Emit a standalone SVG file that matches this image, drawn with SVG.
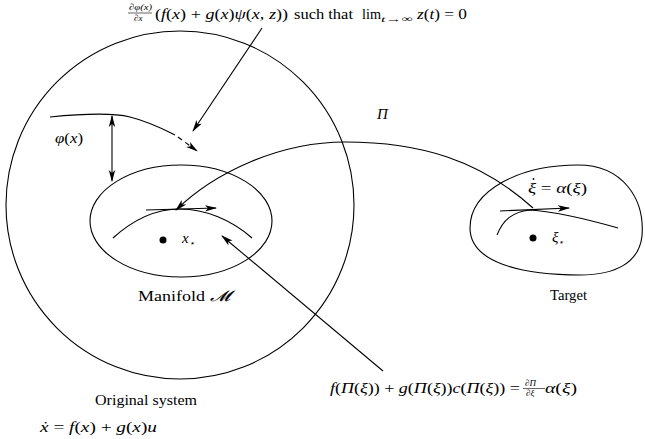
<svg xmlns="http://www.w3.org/2000/svg" width="645" height="439" viewBox="0 0 645 439">
<style>
.ln{fill:none;stroke:#000;stroke-width:1.1}
.t{font-family:"Liberation Serif","Times New Roman",serif;font-size:15px;fill:#000}
.i{font-style:italic}
.s{font-size:9px}
</style>
<defs>
<marker id="ah" markerWidth="12" markerHeight="8" refX="11" refY="4" orient="auto" markerUnits="userSpaceOnUse">
<path d="M0,0.8 L12,4 L0,7.2 L3,4 Z" fill="#000"/>
</marker>
<marker id="ahs" markerWidth="12" markerHeight="8" refX="1" refY="4" orient="auto" markerUnits="userSpaceOnUse">
<path d="M12,0.8 L0,4 L12,7.2 L9,4 Z" fill="#000"/>
</marker>
</defs>

<g id="original-system">
<circle class="ln" cx="180" cy="205" r="174"/>
<text class="t" x="95" y="405" textLength="102" lengthAdjust="spacingAndGlyphs">Original system</text>
<text class="t" x="40" y="432" textLength="117" lengthAdjust="spacingAndGlyphs"><tspan class="i">ẋ</tspan> = <tspan class="i">f</tspan>(<tspan class="i">x</tspan>) + <tspan class="i">g</tspan>(<tspan class="i">x</tspan>)<tspan class="i">u</tspan></text>
</g>

<g id="manifold">
<ellipse class="ln" cx="181" cy="221" rx="91" ry="56"/>
<path class="ln" d="M113,238 C135,218 158,209 180,209 C205,209 232,220 252,238"/>
<circle cx="163" cy="240" r="3.5" fill="#000"/>
<text class="t i" x="182" y="243">x<tspan class="s" dy="3">⋆</tspan></text>
<text class="t" x="138" y="301" textLength="92" lengthAdjust="spacingAndGlyphs">Manifold <tspan class="i" font-family="'DejaVu Serif',serif">𝓜</tspan></text>
</g>

<g id="target">
<path class="ln" d="M470,228 C470,190 520,165 578,165 C622,165 645,198 642,236 C639,263 615,275 580,275 C520,275 470,262 470,228 Z"/>
<path class="ln" d="M497,235 C503,220 512,212 530,210 C560,212 590,220 618,228"/>
<circle cx="533" cy="238" r="3.5" fill="#000"/>
<text class="t i" x="552" y="242">ξ<tspan class="s" dy="3">⋆</tspan></text>
<text class="t" x="528" y="193" textLength="59" lengthAdjust="spacingAndGlyphs"><tspan class="i">ξ</tspan> = <tspan class="i">α</tspan>(<tspan class="i">ξ</tspan>)</text>
<circle cx="533.5" cy="179" r="0.9" fill="#000"/>
<text class="t" x="550" y="300" font-size="13" textLength="37" lengthAdjust="spacingAndGlyphs">Target</text>
</g>

<g id="phi">
<path class="ln" d="M50,117 C80,114 110,112 130,117 C150,122 165,130 175,135"/>
<text class="t" x="55" y="143" textLength="28" lengthAdjust="spacingAndGlyphs"><tspan class="i">φ</tspan>(<tspan class="i">x</tspan>)</text>
</g>

<g id="top-label">
<text class="t s i" x="129" y="10" textLength="23" lengthAdjust="spacingAndGlyphs">∂φ(x)</text>
<line x1="128" y1="13" x2="152" y2="13" stroke="#000" stroke-width="0.6"/>
<text class="t s i" x="134" y="21">∂x</text>
<text class="t" x="155" y="19" textLength="133" lengthAdjust="spacingAndGlyphs">(<tspan class="i">f</tspan>(<tspan class="i">x</tspan>) + <tspan class="i">g</tspan>(<tspan class="i">x</tspan>)<tspan class="i">ψ</tspan>(<tspan class="i">x, z</tspan>))</text>
<text class="t" x="294" y="19" textLength="59" lengthAdjust="spacingAndGlyphs">such that</text>
<text class="t" x="362" y="19" textLength="19" lengthAdjust="spacingAndGlyphs">lim</text>
<text class="t s" x="381" y="22" textLength="32" lengthAdjust="spacingAndGlyphs"><tspan class="i">t</tspan>→∞</text>
<text class="t" x="417" y="19" textLength="50" lengthAdjust="spacingAndGlyphs"><tspan class="i">z</tspan>(<tspan class="i">t</tspan>) = 0</text>
</g>

<g id="pi-label">
<text class="t i" x="377" y="119">Π</text>
</g>

<g id="bottom-label">
<text class="t" x="330" y="393" textLength="190" lengthAdjust="spacingAndGlyphs"><tspan class="i">f</tspan>(<tspan class="i">Π</tspan>(<tspan class="i">ξ</tspan>)) + <tspan class="i">g</tspan>(<tspan class="i">Π</tspan>(<tspan class="i">ξ</tspan>))<tspan class="i">c</tspan>(<tspan class="i">Π</tspan>(<tspan class="i">ξ</tspan>)) =</text>
<text class="t s i" x="525" y="386">∂Π</text>
<line x1="523" y1="388.5" x2="545" y2="388.5" stroke="#000" stroke-width="0.6"/>
<text class="t s i" x="526" y="396">∂ξ</text>
<text class="t" x="545" y="393" textLength="32" lengthAdjust="spacingAndGlyphs"><tspan class="i">α</tspan>(<tspan class="i">ξ</tspan>)</text>
</g>

<g id="connectors">
<line class="ln" x1="112" y1="116" x2="112" y2="181" marker-start="url(#ahs)" marker-end="url(#ah)"/>
<path class="ln" d="M178,137 L197,151" stroke-dasharray="5,4" marker-end="url(#ah)"/>
<line class="ln" x1="262" y1="28" x2="193" y2="131" marker-end="url(#ah)"/>
<line class="ln" x1="146" y1="210" x2="216" y2="208" marker-end="url(#ah)"/>
<path class="ln" d="M533,208 C480,160 420,142 345,142 C280,142 215,172 176,210" marker-end="url(#ah)"/>
<line class="ln" x1="500" y1="211" x2="569" y2="208" marker-end="url(#ah)"/>
<line class="ln" x1="383" y1="371" x2="222" y2="236" marker-end="url(#ah)"/>
</g>
</svg>
